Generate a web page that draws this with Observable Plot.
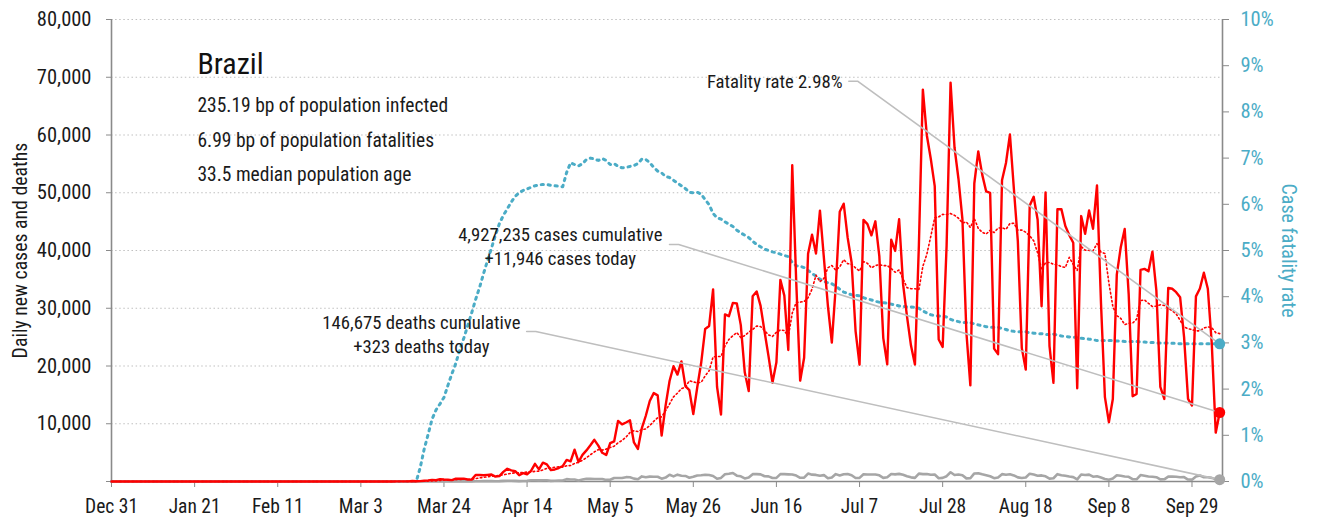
<!DOCTYPE html>
<html>
<head>
<meta charset="utf-8">
<script src="https://cdn.jsdelivr.net/npm/d3@7"></script>
<script src="https://cdn.jsdelivr.net/npm/@observablehq/plot@0.6"></script>
<style>
  html, body { margin: 0; padding: 0; background: #fff; }
  #chart svg { display: block; }
</style>
</head>
<body>
<div id="chart"></div>
<script>
// ---------------- DATA ----------------
const startDate = "2019-12-31";   // first day of every daily series below
const axisEndDate = "2020-10-06T17:00:00Z";

const country = "Brazil";
const statsLines = [
  "235.19 bp of population infected",
  "6.99 bp of population fatalities",
  "33.5 median population age"
];
const fatalityLabel = "Fatality rate 2.98%";
const casesLabel = ["4,927,235 cases cumulative", "+11,946 cases today"];
const deathsLabel = ["146,675 deaths cumulative", "+323 deaths today"];
const leftTitle = "Daily new cases and deaths";
const rightTitle = "Case fatality rate";

const xTickDates = ["2019-12-31","2020-01-21","2020-02-11","2020-03-03","2020-03-24","2020-04-14",
  "2020-05-05","2020-05-26","2020-06-16","2020-07-07","2020-07-28","2020-08-18","2020-09-08","2020-09-29"];
const leftTicks = [0,10000,20000,30000,40000,50000,60000,70000,80000];
const gridValues = [10000,20000,30000,40000,50000,60000,70000,80000];
const rightTicks = [0,1,2,3,4,5,6,7,8,9,10]; // percent

// daily new cases, Dec 31 2019 .. Oct 6 2020
const cases = [
  0,0,0,0,0,0,0,0, 0,0,0,0,0,0,0,0, 0,0,0,0,0,0,0,0, 0,0,0,0,0,0,0,0,      // Dec 31 + Jan
  0,0,0,0,0,0,0,0, 0,0,0,0,0,0,0,0, 0,0,0,0,0,0,0,0, 0, 1,0,0,1,           // Feb
  0,0,0,0,1,5,5,6,7,5, 4,20,25,21,23,79,34,57,137,193, 283,224,418,345,310,232,482,502,487,352, 323, // Mar
  1138,1119,1074,1146,1222,852,926,1661,2210,1930, 1781,1089,1442,1261,1832,3058,2105,3257,2976,1996,
  2089,2336,2678,3735,3503,5514,3379,4613,5385,6276,                        // Apr
  7218,6209,4970,4588,6633,6935,10503,9888,10222,10611, 6760,5632,9258,11385,13944,15305,14919,7938,13140,17408,
  19951,18508,20803,16508,15813,11687,16324,20599,26417,26928, 33274,       // May
  16409,11598,28936,28633,30925,30830,27075,18912,15654,32091, 32913,30412,25982,21704,17110,20647,34918,32188,22765,54771,
  34666,17459,21432,39436,42725,39483,46907,38693,30476,24052,              // Jun
  33846,46712,48105,42223,37923,26051,20229,45305,44571,42619, 45048,39023,24831,20286,41857,39924,45403,34177,28532,23529,
  20257,41008,67860,59961,55891,51147,24578,23284,40816,69074, 57837,       // Jul
  52383,45392,25800,16641,51603,57152,53139,50230,49970,23010, 22048,52160,55155,60091,50644,41576,23101,19373,47784,49298,
  45323,30355,50032,23421,17078,47134,47161,44235,42659,41350, 16158,       // Aug
  45961,42900,46930,43770,51270,31000,14600,10273,14279,35816, 40557,43718,32500,14768,15155,36653,36820,36400,39797,33057,
  16389,14300,33536,33370,32790,31911,25000,14318,13155,32058,              // Sep
  33413,36157,33370,23850,8456,11946                                        // Oct
];

// daily new deaths, Dec 31 2019 .. Oct 6 2020
const deaths = [
  0,0,0,0,0,0,0,0, 0,0,0,0,0,0,0,0, 0,0,0,0,0,0,0,0, 0,0,0,0,0,0,0,0,      // Dec 31 + Jan
  0,0,0,0,0,0,0,0, 0,0,0,0,0,0,0,0, 0,0,0,0,0,0,0,0, 0,0,0,0,0,            // Feb
  0,0,0,0,0,0,0,0,0,0, 0,0,0,0,0,0,0, 1,2,3,5,4,10,9,12,13,18,15,19,25,23,  // Mar
  42,39,59,60,73,54,67,114,133,141, 115,68,99,105,204,204,188,217,213,108,
  125,154,165,407,357,346,189,338,474,449,                                  // Apr
  435,428,421,275,296,600,615,610,751,730, 496,396,881,749,844,824,816,485,674,1179,
  888,1188,1001,965,653,807,1039,1086,1156,1124, 956,                       // May
  480,623,1262,1349,1473,1005,904,525,679,1272, 1274,1239,909,892,612,627,1282,1269,1238,1206,
  1022,641,654,1374,1185,1141,990,1109,552,692,                             // Jun
  1280,1038,1252,1290,1091,602,620,1254,1223,1220, 1214,1071,631,733,1300,1233,1322,1163,921,716,
  632,1367,1284,1311,1156,1211,555,627,921,1595, 1129,                      // Jul
  1212,1088,541,561,1394,1437,1237,1079,905,572, 703,1274,1175,1262,1060,709,620,684,1352,1204,
  1007,1054,892,494,565,1271,1085,984,855,758, 366,                         // Aug
  1215,1136,1184,834,907,682,447,310,504,1075, 983,874,814,415,381,1113,987,857,829,739,
  363,377,836,869,831,729,761,335,317,863,                                  // Sep
  1031,729,728,630,369,323                                                  // Oct
];

// case fatality rate (%), Dec 31 2019 .. Oct 6 2020
const cfr = [
  0,0,0,0,0,0,0,0, 0,0,0,0,0,0,0,0, 0,0,0,0,0,0,0,0, 0,0,0,0,0,0,0,0,      // Dec 31 + Jan
  0,0,0,0,0,0,0,0, 0,0,0,0,0,0,0,0, 0,0,0,0,0,0,0,0, 0,0,0,0,0,            // Feb
  0,0,0,0,0,0,0,0,0,0, 0,0,0,0,0,0,0,
  0.3,0.7,1.02,1.35,1.55,1.68,1.82,2.08,2.33,2.56,2.85,3.1,3.37,3.65,       // Mar
  3.94,4.2,4.5,4.78,5.05,5.33,5.58,5.76,5.9,6.05, 6.17,6.25,6.3,6.33,6.37,6.4,6.42,6.43,6.43,6.41,
  6.4,6.39,6.38,6.69,6.9,6.86,6.83,6.88,6.97,7.0,                           // Apr
  6.98,6.95,6.99,6.95,6.86,6.88,6.82,6.79,6.8,6.82, 6.84,6.88,6.98,6.97,6.9,6.8,6.72,6.68,6.6,6.58,
  6.52,6.46,6.4,6.34,6.26,6.25,6.26,6.22,6.1,5.99, 5.8,                     // May
  5.71,5.68,5.62,5.57,5.52,5.44,5.38,5.33,5.28,5.2, 5.13,5.08,5.03,5.0,4.97,4.95,4.92,4.89,4.87,4.74,
  4.67,4.66,4.63,4.57,4.5,4.45,4.38,4.33,4.3,4.28,                          // Jun
  4.23,4.16,4.1,4.07,4.04,4.03,4.02,3.98,3.95,3.93, 3.9,3.88,3.87,3.86,3.84,3.82,3.8,3.79,3.78,3.78,
  3.77,3.75,3.69,3.65,3.61,3.59,3.58,3.58,3.56,3.51, 3.48,                  // Jul
  3.46,3.44,3.44,3.44,3.41,3.39,3.37,3.35,3.34,3.34, 3.34,3.31,3.29,3.26,3.25,3.24,3.24,3.24,3.22,3.21,
  3.2,3.2,3.18,3.18,3.19,3.17,3.15,3.14,3.13,3.12, 3.12,                    // Aug
  3.1,3.09,3.08,3.07,3.05,3.05,3.05,3.05,3.05,3.04, 3.04,3.03,3.03,3.03,3.03,3.02,3.02,3.01,3.01,3.0,
  3.0,3.0,3.0,2.99,2.99,2.98,2.98,2.98,2.98,2.98,                           // Sep
  2.98,2.98,2.98,2.98,2.98,2.98                                             // Oct
];

// ---------------- BUILD ----------------
const DAY = 864e5;
const t0 = new Date(startDate + "T00:00:00Z");
const t1 = new Date(axisEndDate);
const dayToDate = d => new Date(t0.getTime() + d * DAY);
const pctToY = p => p * 8000;          // 10% <-> 80,000 on the shared frame

const rows = cases.map((v, i) => ({
  date: dayToDate(i), cases: v, deaths: deaths[i], cfr: pctToY(cfr[i])
}));
const last = rows[rows.length - 1];

// callout leader lines: [start day, level] -> horizontal stub -> end point
const callouts = [
  {pts: [[186.3, 69320], [188.5, 69320]], end: last.cfr},
  {pts: [[141.0, 41040], [143.3, 41040]], end: last.cases},
  {pts: [[104.9, 25970], [107.2, 25970]], end: last.deaths}
].flatMap((c, k) => [
  ...c.pts.map(([d, v]) => ({k, date: dayToDate(d), v})),
  {k, date: last.date, v: c.end}
]);

const font = '"Roboto Condensed","Liberation Sans Narrow","Arial Narrow","DejaVu Sans Condensed","Noto Sans",sans-serif';
const axisGray = "#8a8a8a";
const blue = "#4BACC6";
const red = "#FF0000";
const grayLine = "#A6A6A6";
const calloutGray = "#BEBEBE";

const chart = Plot.plot({
  width: 1319,
  height: 520,
  marginLeft: 111,
  marginRight: 97,
  marginTop: 19,
  marginBottom: 39,
  style: {fontFamily: font, fontSize: "17px", background: "#fff", color: "#1a1a1a", overflow: "visible"},
  x: {type: "utc", domain: [t0, t1], axis: null},
  y: {domain: [0, 80000], axis: null},
  marks: [
    Plot.ruleY(gridValues, {stroke: "#C0C0C0", strokeWidth: 1.2, strokeDasharray: "1.5,2.6"}),
    Plot.axisY({anchor: "left", ticks: leftTicks, tickSize: 5, tickPadding: 15,
      tickFormat: d => d === 0 ? "" : d3.format(",")(d), stroke: axisGray, fill: "#1a1a1a",
      fontSize: 20.5, label: null}),
    Plot.axisY({anchor: "right", ticks: rightTicks.map(pctToY), tickSize: 6, tickPadding: 12,
      tickFormat: v => `${Math.round(v / 8000)}%`, stroke: axisGray, fill: blue,
      fontSize: 20.5, label: null}),
    Plot.axisX({ticks: xTickDates.map(s => new Date(s + "T00:00:00Z")), tickSize: 6, tickPadding: 12,
      tickFormat: d3.utcFormat("%b %-d"), stroke: axisGray, fill: "#1a1a1a", fontSize: 19.5, label: null}),
    Plot.ruleX([t0], {stroke: axisGray, strokeWidth: 1.6}),
    Plot.ruleX([t1], {stroke: axisGray, strokeWidth: 1.6}),
    Plot.ruleY([0], {stroke: axisGray, strokeWidth: 1.6}),

    // series
    Plot.lineY(rows, {x: "date", y: "cfr", stroke: blue, strokeWidth: 3, strokeDasharray: "2.2,4.8"}),
    Plot.lineY(rows, {x: "date", y: "deaths", stroke: grayLine, strokeWidth: 2.6}),
    Plot.lineY(rows, Plot.windowY({k: 7, anchor: "end"}, {x: "date", y: "cases", stroke: red,
      strokeWidth: 1.6, strokeDasharray: "1.5,2.6"})),
    Plot.lineY(rows, {x: "date", y: "cases", stroke: red, strokeWidth: 2.4}),

    // callouts
    Plot.line(callouts, {x: "date", y: "v", z: "k", stroke: calloutGray, strokeWidth: 1.6}),
    Plot.dot([last], {x: "date", y: "cfr", r: 5.5, fill: blue}),
    Plot.dot([last], {x: "date", y: "cases", r: 5.5, fill: red}),
    Plot.dot([last], {x: "date", y: "deaths", r: 5.5, fill: grayLine}),

    // annotation texts
    Plot.text([fatalityLabel], {x: dayToDate(184.7), y: 69260, text: d => d, textAnchor: "end",
      lineAnchor: "middle", fontSize: 18.7, fill: "#1a1a1a"}),
    Plot.text([casesLabel.join("\n")], {x: dayToDate(113.4), y: 40870, text: d => d, textAnchor: "middle",
      lineAnchor: "middle", lineHeight: 1.3, fontSize: 18.7, fill: "#1a1a1a"}),
    Plot.text([deathsLabel.join("\n")], {x: dayToDate(78.3), y: 25710, text: d => d, textAnchor: "middle",
      lineAnchor: "middle", lineHeight: 1.3, fontSize: 18.7, fill: "#1a1a1a"}),

    // country block
    Plot.text([country], {x: dayToDate(21.7), y: 72200, text: d => d, textAnchor: "start",
      lineAnchor: "middle", fontSize: 30, fill: "#111"}),
    Plot.text(statsLines, {x: dayToDate(21.7), y: (d, i) => [65100, 59000, 53100][i], text: d => d,
      textAnchor: "start", lineAnchor: "middle", fontSize: 19.5, fill: "#1a1a1a"}),

    // axis titles
    Plot.text([leftTitle], {frameAnchor: "left", dx: -91, rotate: -90, text: d => d,
      textAnchor: "middle", lineAnchor: "middle", fontSize: 19.8, fill: "#1a1a1a"}),
    Plot.text([rightTitle], {frameAnchor: "right", dx: 66, rotate: 90, text: d => d,
      textAnchor: "middle", lineAnchor: "middle", fontSize: 20, fill: blue})
  ]
});

document.getElementById("chart").appendChild(chart);
</script>
</body>
</html>
